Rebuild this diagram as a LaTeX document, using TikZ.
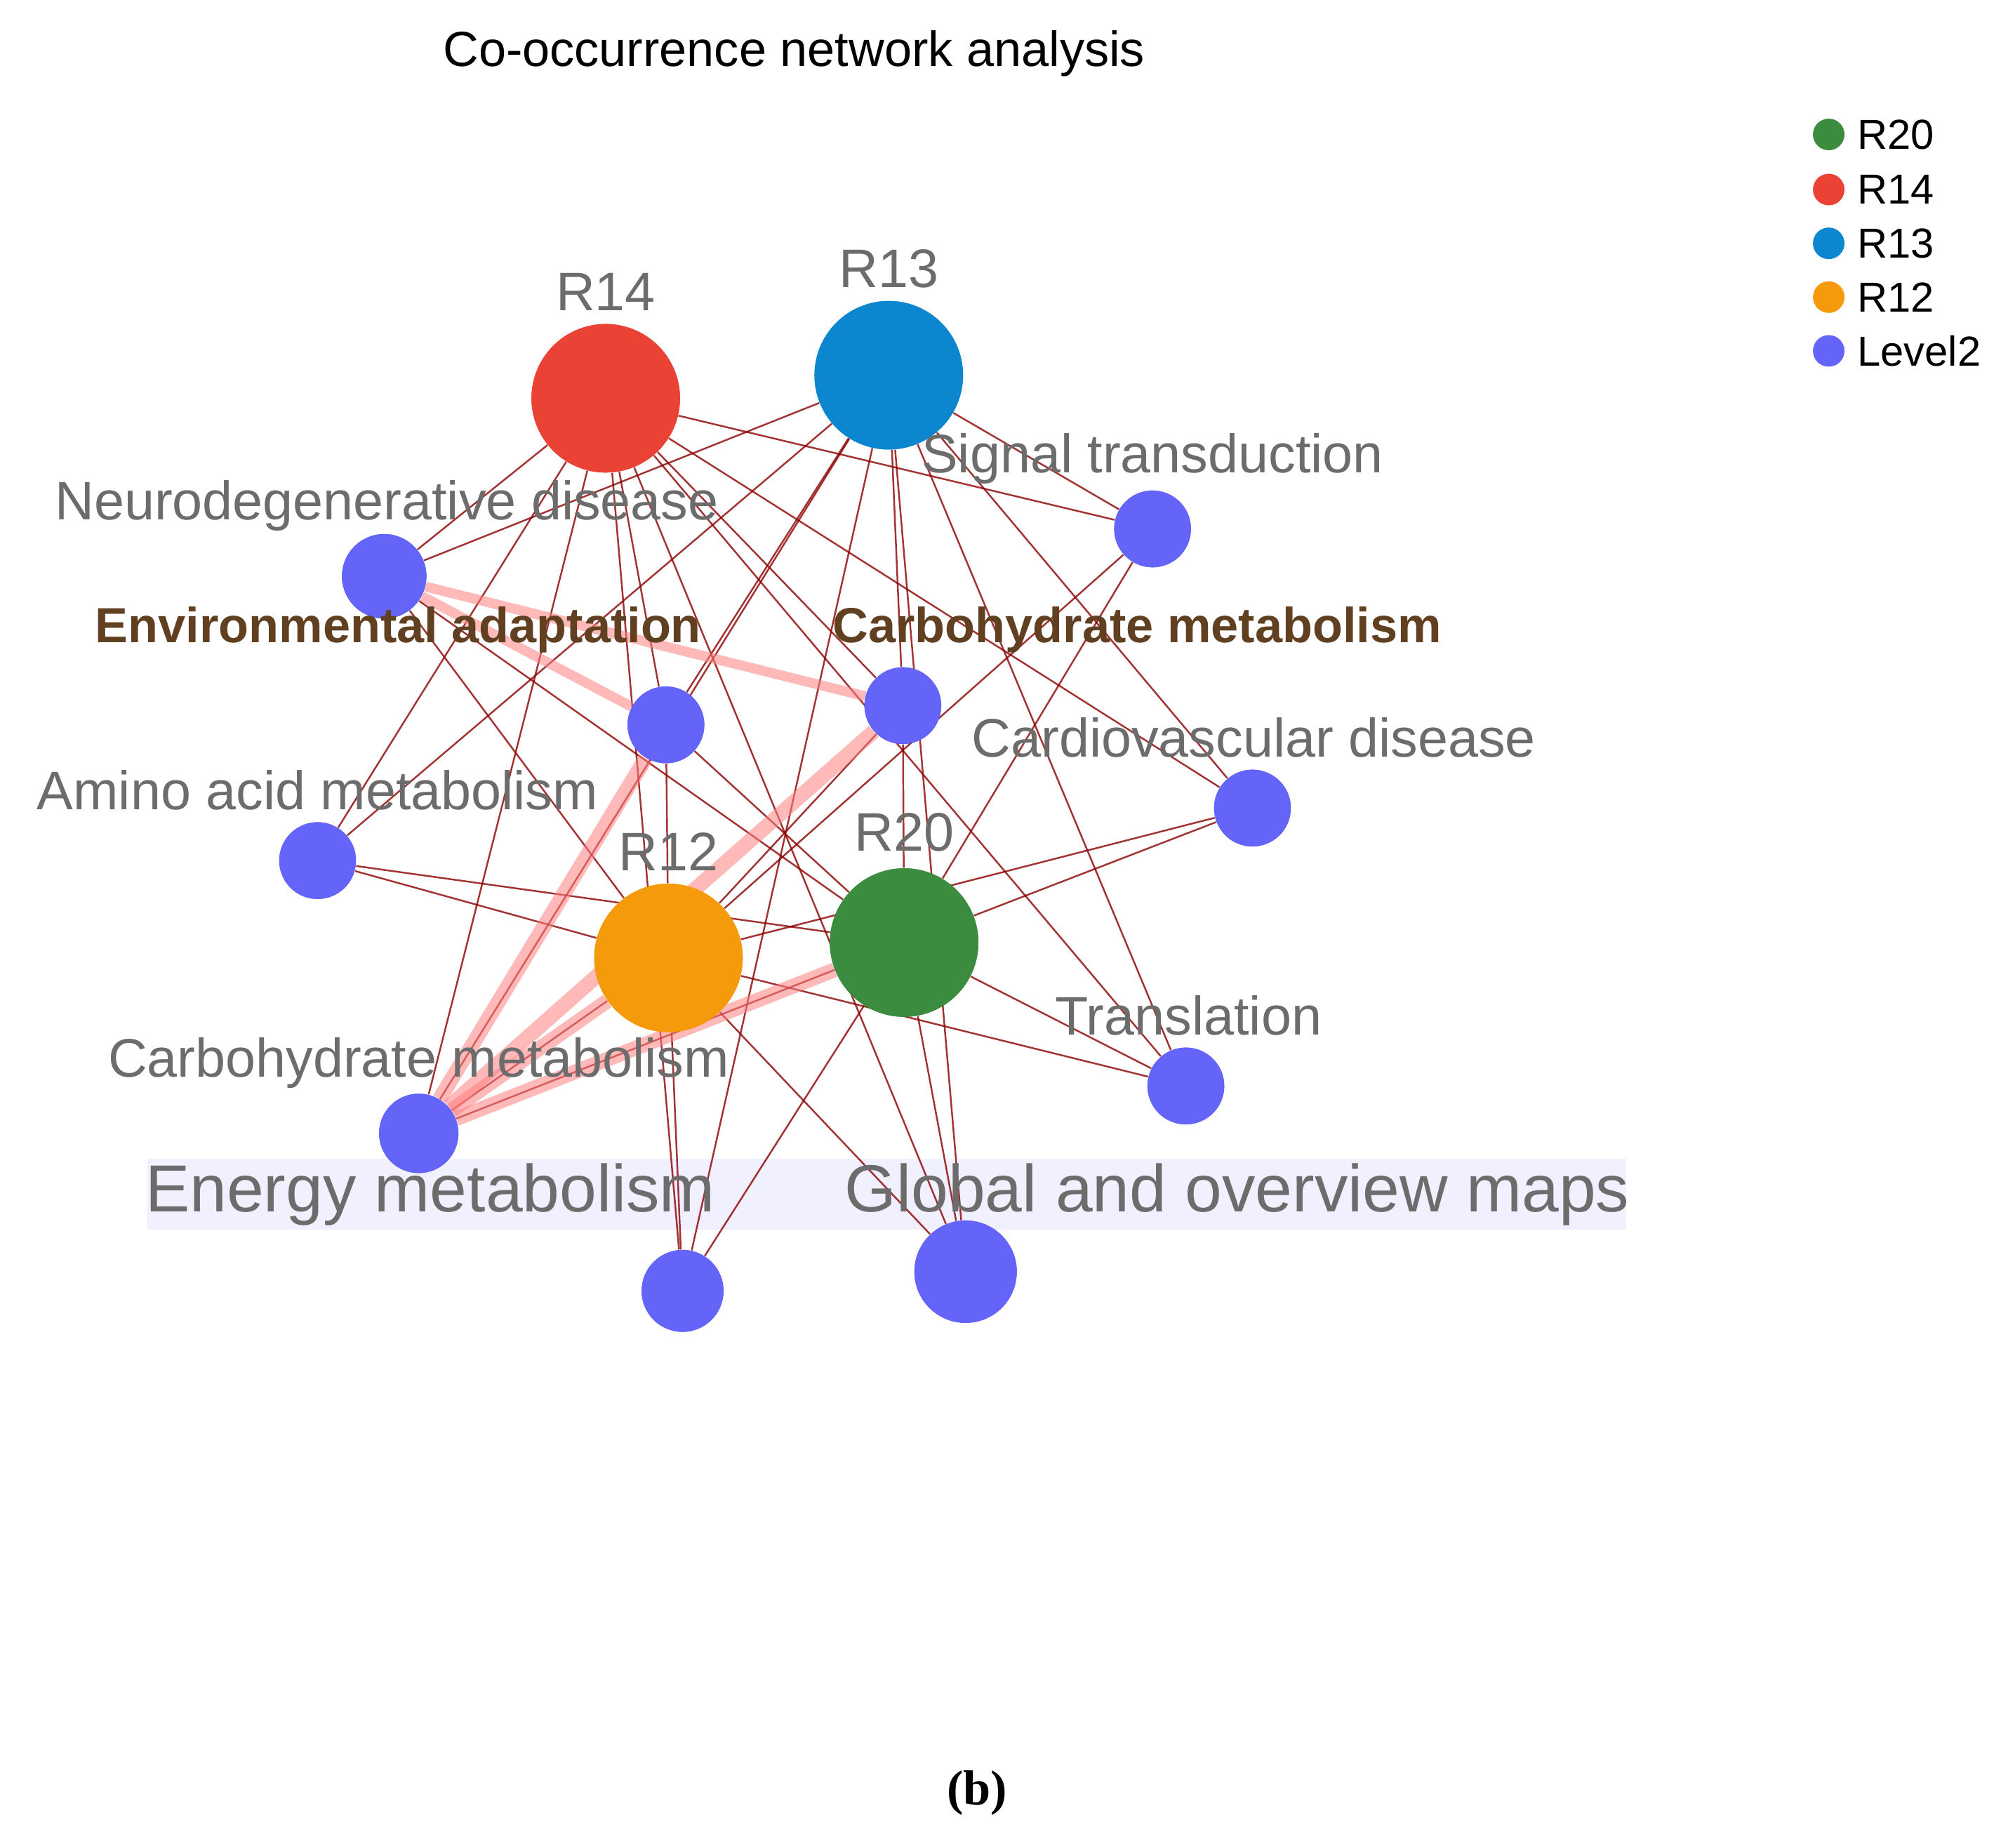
\documentclass[tikz,border=0pt]{standalone}
\usepackage{fontspec}
\setmainfont{Liberation Sans}
\definecolor{cR14}{HTML}{EA4335}
\definecolor{cR13}{HTML}{0C87CF}
\definecolor{cR12}{HTML}{F59A0A}
\definecolor{cR20}{HTML}{3B8C3E}
\definecolor{cL2}{HTML}{6464F8}
\begin{document}
\begin{tikzpicture}[x=0.01825cm,y=-0.01825cm,
  lv/.style={circle,fill=cL2,draw=none,minimum size=#1*0.0365cm,inner sep=0},
  big/.style={circle,draw=none,minimum size=116*0.01825cm,inner sep=0},
  lab/.style={text=gray!85!black,font=\fontsize{22}{24}\selectfont,inner sep=0},
  blab/.style={text=brown!50!black,font=\bfseries\fontsize{20}{22}\selectfont,inner sep=0},
  ed/.style={draw=red!55!black,line width=0.7pt,opacity=0.8},
  th/.style={draw=red!50!white,line width=6pt,opacity=0.55},
  lg/.style={circle,minimum size=0.45cm,inner sep=0}]
\useasboundingbox (0,0) rectangle (1568,1443);
\fill[white] (0,0) rectangle (1568,1443);
\node[font=\fontsize{20}{22}\selectfont] (title) at (620,42) {Co-occurrence network analysis};
\fill[blue!6] (115,905) rectangle (1270,960);
\node[big,fill=cR14] (R14) at (473,311) {};
\node[big,fill=cR13] (R13) at (694,293) {};
\node[big,fill=cR12] (R12) at (522,748) {};
\node[big,fill=cR20] (R20) at (706,736) {};
\node[lv=33] (neu) at (300,450) {};
\node[lv=30] (sig) at (900,413) {};
\node[lv=30] (env) at (520,566) {};
\node[lv=30] (cmt) at (705,551) {};
\node[lv=30] (car) at (978,631) {};
\node[lv=30] (ami) at (248,672) {};
\node[lv=30] (tra) at (926,848) {};
\node[lv=31] (cmb) at (327,885) {};
\node[lv=32] (ene) at (533,1008) {};
\node[lv=40] (glo) at (754,993) {};
\foreach \h in {R14,R13,R12,R20}{
  \foreach \l in {neu,sig,env,cmt,car,ami,tra,cmb,ene,glo}{
    \draw[ed] (\h) -- (\l);
  }}
\draw[th] (cmb) -- (R12);
\draw[th] (cmb) -- (R20);
\draw[th] (cmb) -- (cmt);
\draw[th] (cmb) -- (env);
\draw[th,line width=4pt] (neu) -- (cmt);
\draw[th,line width=4pt] (neu) -- (env);
\node[big,fill=cR14] at (R14) {};
\node[big,fill=cR13] at (R13) {};
\node[big,fill=cR12] at (R12) {};
\node[big,fill=cR20] at (R20) {};
\foreach \l/\s in {neu/33,sig/30,env/30,cmt/30,car/30,ami/30,tra/30,cmb/31,ene/32,glo/40}{\node[lv=\s] at (\l) {};}
\node[lab] (lR14) at (473,228) {R14};
\node[lab] (lR13) at (694,210) {R13};
\node[lab] (lR12) at (522,665) {R12};
\node[lab] (lR20) at (706,650) {R20};
\node[lab] (lneu) at (302,395) {Neurodegenerative disease};
\node[lab] (lsig) at (900,358) {Signal transduction};
\node[blab] (lenv) at (311,492) {Environmental adaptation};
\node[blab] (lcmt) at (888,492) {Carbohydrate metabolism};
\node[lab] (lcar) at (979,576) {Cardiovascular disease};
\node[lab] (lami) at (248,617) {Amino acid metabolism};
\node[lab] (ltra) at (928,793) {Translation};
\node[lab] (lcmb) at (327,830) {Carbohydrate metabolism};
\node[lab,font=\fontsize{27}{29}\selectfont] (lene) at (336,933) {Energy metabolism};
\node[lab,font=\fontsize{27}{29}\selectfont] (lglo) at (966,933) {Global and overview maps};
\foreach \c/\t/\yy in {cR20/R20/105,cR14/R14/148,cR13/R13/190,cR12/R12/232,cL2/Level2/274}{
  \node[lg,fill=\c] (g\t) at (1428,\yy) {};
  \node[anchor=west,font=\fontsize{17}{19}\selectfont,inner sep=0] (t\t) at (1450,\yy) {\t};
}
\node[font=\bfseries\fontsize{20}{22}\selectfont] (b) at (763,1400) {\fontspec{Liberation Serif}(b)};
\end{tikzpicture}
\end{document}
